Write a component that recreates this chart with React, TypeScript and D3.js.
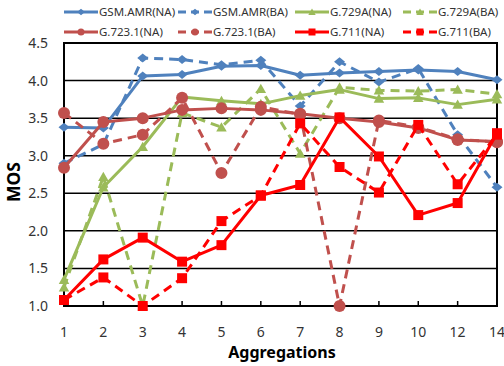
import * as d3 from 'd3';

const categories = ['1', '2', '3', '4', '5', '6', '7', '8', '9', '10', '12', '14'];
const yTicks = [1.0, 1.5, 2.0, 2.5, 3.0, 3.5, 4.0, 4.5];

const gsmAmrNA = [3.38, 3.37, 4.06, 4.08, 4.19, 4.2, 4.07, 4.1, 4.12, 4.14, 4.12, 4.01];
const gsmAmrBA = [2.9, 3.15, 4.3, 4.28, 4.21, 4.27, 3.66, 4.25, 3.98, 4.16, 3.28, 2.58];
const g729aNA = [1.35, 2.58, 3.12, 3.78, 3.73, 3.69, 3.8, 3.88, 3.76, 3.77, 3.68, 3.75];
const g729aBA = [1.25, 2.72, 1.0, 3.57, 3.38, 3.89, 3.03, 3.91, 3.87, 3.86, 3.88, 3.82];
const g7231NA = [2.84, 3.45, 3.5, 3.61, 3.63, 3.61, 3.56, 3.5, 3.45, 3.37, 3.21, 3.19];
const g7231BA = [3.57, 3.16, 3.28, 3.77, 2.77, 3.65, 3.55, 1.0, 3.47, 3.38, 3.22, 3.18];
const g711NA = [1.08, 1.62, 1.91, 1.59, 1.81, 2.47, 2.61, 3.51, 2.99, 2.21, 2.37, 3.3];
const g711BA = [1.08, 1.38, 1.0, 1.37, 2.13, 2.47, 3.43, 2.85, 2.51, 3.41, 2.62, 3.28];

const series = [
  { name: 'GSM.AMR(NA)', values: gsmAmrNA, color: '#4F81BD', dashed: false, marker: 'diamond' },
  { name: 'GSM.AMR(BA)', values: gsmAmrBA, color: '#4F81BD', dashed: true, marker: 'diamond' },
  { name: 'G.729A(NA)', values: g729aNA, color: '#9BBB59', dashed: false, marker: 'triangle' },
  { name: 'G.729A(BA)', values: g729aBA, color: '#9BBB59', dashed: true, marker: 'triangle' },
  { name: 'G.723.1(NA)', values: g7231NA, color: '#C0504D', dashed: false, marker: 'circle' },
  { name: 'G.723.1(BA)', values: g7231BA, color: '#C0504D', dashed: true, marker: 'circle' },
  { name: 'G.711(NA)', values: g711NA, color: '#FF0000', dashed: false, marker: 'square' },
  { name: 'G.711(BA)', values: g711BA, color: '#FF0000', dashed: true, marker: 'square' },
];

const font = '"Noto Sans", Arial, sans-serif';

const left = 64;
const right = 497;
const top = 43;
const bottom = 306;

function markerPath(kind: string, cx: number, cy: number, s: number) {
  const h = s / 2;
  if (kind === 'diamond') {
    return `M${cx},${cy - h * 0.9}L${cx + h * 1.1},${cy}L${cx},${cy + h * 0.9}L${cx - h * 1.1},${cy}Z`;
  }
  if (kind === 'triangle') {
    return `M${cx},${cy - h}L${cx + h * 1.05},${cy + h * 0.85}L${cx - h * 1.05},${cy + h * 0.85}Z`;
  }
  if (kind === 'square') {
    return `M${cx - h},${cy - h}h${s}v${s}h${-s}Z`;
  }
  return `M${cx - h},${cy}a${h},${h} 0 1,0 ${s},0a${h},${h} 0 1,0 ${-s},0Z`;
}

export default function App() {
  const width = 504;
  const height = 366;

  const x = d3.scalePoint<string>().domain(categories).range([left, right]).padding(0);
  const y = d3.scaleLinear().domain([1, 4.5]).range([bottom, top]);

  const line = d3
    .line<number>()
    .x((_, i) => x(categories[i]) as number)
    .y((d) => y(d));

  const legendCols = [64, 178, 295, 403];
  const legendRows = [12, 32];

  return (
    <svg
      width={width}
      height={height}
      style={{ position: 'absolute', left: 0, top: 0, background: '#fff' }}
    >
      <rect x={0} y={0} width={width} height={height} fill="#fff" />

      {/* gridlines */}
      {yTicks.map((t) => (
        <line key={t} x1={left} x2={right} y1={y(t)} y2={y(t)} stroke="#000" strokeWidth={1.5} />
      ))}
      <rect x={left} y={top} width={right - left} height={bottom - top} fill="none" stroke="#000" strokeWidth={2} />

      {/* x ticks (inside) */}
      {categories.map((c) => (
        <line key={c} x1={x(c)} x2={x(c)} y1={bottom} y2={bottom - 5} stroke="#000" strokeWidth={1.5} />
      ))}

      {/* y tick labels */}
      {yTicks.map((t) => (
        <text key={t} x={48} y={y(t) + 5} textAnchor="end" fontFamily={font} fontSize={14} fill="#333">
          {t.toFixed(1)}
        </text>
      ))}

      {/* x tick labels */}
      {categories.map((c) => (
        <text key={c} x={x(c)} y={337} textAnchor="middle" fontFamily={font} fontSize={14} fill="#333">
          {c}
        </text>
      ))}

      <text x={282} y={358} textAnchor="middle" fontFamily={font} fontSize={16} fontWeight="bold" fill="#000">
        Aggregations
      </text>
      <text
        transform={`translate(20,182) rotate(-90)`}
        textAnchor="middle"
        fontFamily={font}
        fontSize={17.5}
        fontWeight="bold"
        fill="#000"
      >
        MOS
      </text>

      {/* series */}
      {series.map((s) => (
        <g key={s.name}>
          <path
            d={line(s.values) ?? ''}
            fill="none"
            stroke={s.color}
            strokeWidth={3}
            strokeDasharray={s.dashed ? '9,6' : undefined}
            strokeLinejoin="round"
          />
          {s.values.map((v, i) => (
            <path
              key={i}
              d={markerPath(s.marker, x(categories[i]) as number, y(v), s.marker === 'circle' ? 12 : 10)}
              fill={s.color}
            />
          ))}
        </g>
      ))}

      {/* legend */}
      {series.map((s, i) => {
        const lx = legendCols[i % 4];
        const ly = legendRows[Math.floor(i / 4)];
        return (
          <g key={s.name}>
            <line
              x1={lx}
              x2={lx + 34}
              y1={ly}
              y2={ly}
              stroke={s.color}
              strokeWidth={3}
              strokeDasharray={s.dashed ? '8,5' : undefined}
            />
            <path d={markerPath(s.marker, lx + 17, ly, 7)} fill={s.color} />
            <text x={lx + 35} y={ly + 4} fontFamily={font} fontSize={11.5} fill="#333">
              {s.name}
            </text>
          </g>
        );
      })}
    </svg>
  );
}
